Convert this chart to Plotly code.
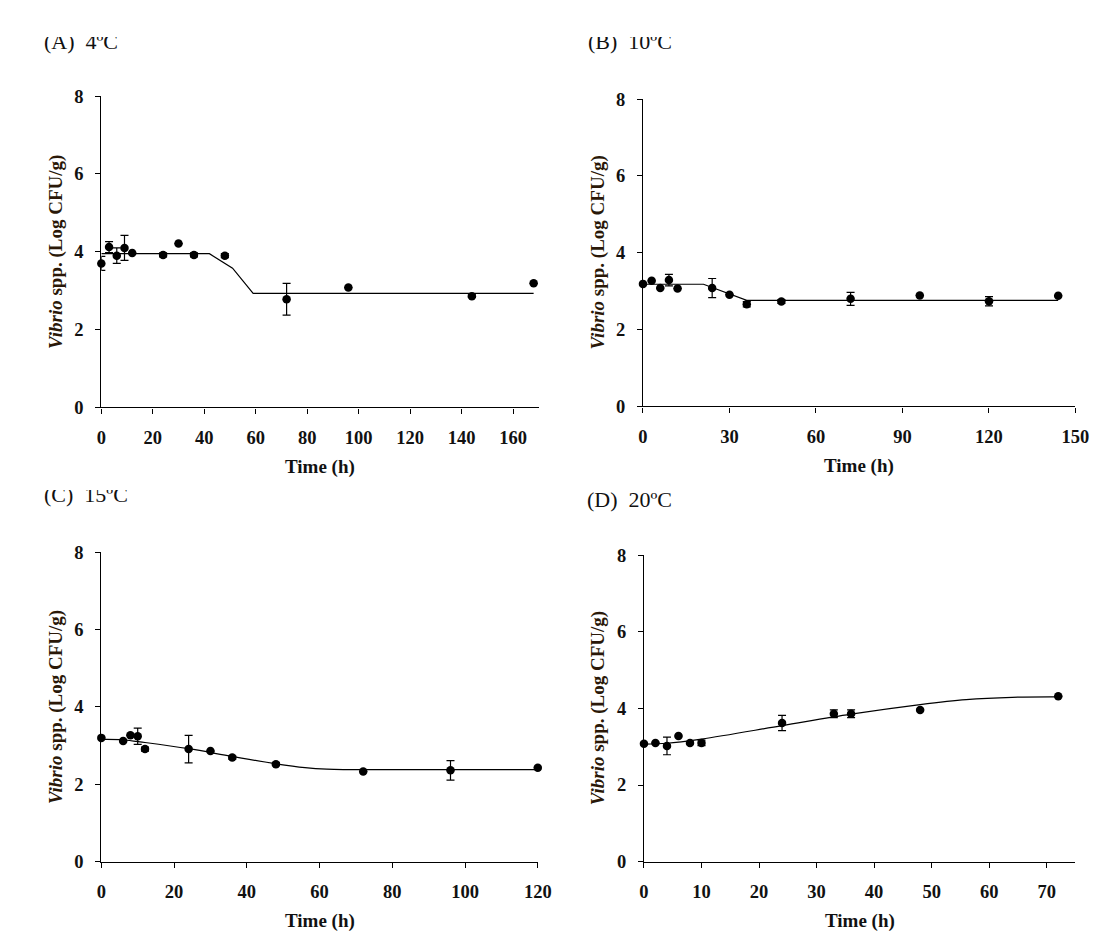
import plotly.graph_objects as go

W, H = 1118, 946

# ---------------- data ----------------
A_time = [0, 3, 6, 9, 12, 24, 30, 36, 48, 72, 96, 144, 168]
A_count = [3.70, 4.12, 3.90, 4.10, 3.97, 3.92, 4.21, 3.92, 3.90, 2.78, 3.08, 2.86, 3.19]
A_err = [0.18, 0.14, 0.20, 0.32, None, 0.05, None, 0.05, 0.05, 0.41, None, 0.03, None]
A_fit_time = [0, 42, 51, 59, 168]
A_fit = [3.95, 3.95, 3.58, 2.93, 2.93]

B_time = [0, 3, 6, 9, 12, 24, 30, 36, 48, 72, 96, 120, 144]
B_count = [3.19, 3.27, 3.08, 3.29, 3.07, 3.08, 2.91, 2.66, 2.73, 2.80, 2.89, 2.74, 2.88]
B_err = [None, None, None, 0.15, None, 0.25, None, 0.07, 0.05, 0.17, None, 0.12, None]
B_fit_time = [0, 21, 36, 144]
B_fit = [3.18, 3.18, 2.76, 2.76]

C_time = [0, 6, 8, 10, 12, 24, 30, 36, 48, 72, 96, 120]
C_count = [3.20, 3.12, 3.27, 3.24, 2.91, 2.91, 2.86, 2.69, 2.52, 2.33, 2.36, 2.43]
C_err = [None, None, None, 0.21, 0.05, 0.355, None, 0.04, 0.04, None, 0.25, None]
C_fit_time = [0, 6, 12, 24, 36, 48, 56, 62, 68, 120]
C_fit = [3.16, 3.15, 3.08, 2.92, 2.72, 2.53, 2.43, 2.39, 2.38, 2.38]

D_time = [0, 2, 4, 6, 8, 10, 24, 33, 36, 48, 72]
D_count = [3.08, 3.10, 3.02, 3.28, 3.10, 3.10, 3.62, 3.86, 3.86, 3.96, 4.32]
D_err = [None, None, 0.23, None, None, 0.07, 0.20, 0.10, 0.10, None, None]
D_fit_time = [0, 4, 10, 24, 36, 48, 56, 64, 72]
D_fit = [3.07, 3.09, 3.20, 3.55, 3.85, 4.10, 4.23, 4.29, 4.30]

panel_titles = ["(A)\u00a0\u00a04\u00baC", "(B)\u00a0\u00a010\u00baC",
                "(C)\u00a0\u00a015\u00baC", "(D)\u00a0\u00a020\u00baC"]
x_ranges = [[0, 170], [0, 150], [0, 120], [0, 75]]
x_dticks = [20, 30, 20, 10]
y_ticks = [0, 2, 4, 6, 8]

# ---------------- layout geometry (pixels) ----------------
# (left, right, top, bottom) of each plot area
boxes = [(98, 543, 88, 406), (649, 1089, 91, 405),
         (98, 542, 554, 870), (650, 1089, 557, 870)]
title_pos = [(38, 32), (591, 32), (38, 495), (590, 500)]
# the source figure crops the top of some panel titles: (x0, x1, y_clip) or None
title_clip = [(30, 140, 28), (583, 700, 28), (30, 150, 490), None]

series = [
    (A_time, A_count, A_err, A_fit_time, A_fit, "linear"),
    (B_time, B_count, B_err, B_fit_time, B_fit, "linear"),
    (C_time, C_count, C_err, C_fit_time, C_fit, "spline"),
    (D_time, D_count, D_err, D_fit_time, D_fit, "spline"),
]

SERIF = "Liberation Serif, Times New Roman, serif"
tick_font = dict(family=SERIF, size=18.5, color="#111", weight="bold")
title_font = dict(family=SERIF, size=19, color="#111")

fig = go.Figure()
layout = dict(
    width=W, height=H,
    margin=dict(l=0, r=0, t=0, b=0),
    paper_bgcolor="white", plot_bgcolor="white",
    showlegend=False,
)
annotations = []
covers = []

for i, (box, (t, c, e, ft, fv, shape)) in enumerate(zip(boxes, series)):
    l, r, tp, bt = box
    xa = "xaxis" if i == 0 else f"xaxis{i+1}"
    ya = "yaxis" if i == 0 else f"yaxis{i+1}"
    xr = "x" if i == 0 else f"x{i+1}"
    yr = "y" if i == 0 else f"y{i+1}"
    layout[xa] = dict(
        domain=[l / W, r / W], range=x_ranges[i], anchor=yr,
        dtick=x_dticks[i], tick0=0, showgrid=False, zeroline=False,
        showline=True, linecolor="black", linewidth=1.2,
        ticks="outside", ticklen=5, tickwidth=1.2, tickcolor="black",
        tickfont=tick_font, ticklabelstandoff=8,
    )
    layout[ya] = dict(
        domain=[1 - bt / H, 1 - tp / H], range=[0, 8], anchor=xr,
        tickvals=y_ticks, showgrid=False, zeroline=False,
        showline=True, linecolor="black", linewidth=1.2,
        ticks="outside", ticklen=5, tickwidth=1.2, tickcolor="black",
        tickfont=tick_font, ticklabelstandoff=8,
    )
    # fitted curve
    fig.add_trace(go.Scatter(
        x=ft, y=fv, mode="lines", xaxis=xr, yaxis=yr,
        line=dict(color="black", width=1.2, shape=shape),
        hoverinfo="skip", cliponaxis=False,
    ))
    # observed data
    fig.add_trace(go.Scatter(
        x=t, y=c, mode="markers", xaxis=xr, yaxis=yr,
        marker=dict(color="black", size=8.5),
        error_y=dict(type="data", array=e, symmetric=True,
                     color="black", thickness=1.2, width=4),
        cliponaxis=False,
    ))
    # panel title
    tx, ty = title_pos[i]
    annotations.append(dict(
        text=panel_titles[i], xref="paper", yref="paper",
        x=tx / W, y=1 - ty / H, xanchor="left", yanchor="middle",
        showarrow=False, font=dict(family=SERIF, size=22, color="#111"),
    ))
    if title_clip[i] is not None:
        x0, x1, yc = title_clip[i]
        covers.append(dict(
            text="\u00a0", xref="paper", yref="paper",
            x=x0 / W, y=1 - yc / H, xanchor="left", yanchor="bottom",
            width=x1 - x0, height=14, bgcolor="white", borderpad=0,
            borderwidth=0, showarrow=False, font=dict(size=4, color="white"),
        ))
    # x title
    annotations.append(dict(
        text="<b>Time (h)</b>", xref="paper", yref="paper",
        x=(l + r) / 2 / W, y=1 - (bt + 61) / H,
        xanchor="center", yanchor="middle", showarrow=False,
        font=title_font,
    ))
    # y title
    annotations.append(dict(
        text="<b><i>Vibrio</i> spp. (Log CFU/g)</b>", xref="paper", yref="paper",
        x=(l - 46) / W, y=1 - (tp + bt) / 2 / H, textangle=-90,
        xanchor="center", yanchor="middle", showarrow=False,
        font=dict(family=SERIF, size=19, color="#2a1808"),
    ))

layout["annotations"] = annotations + covers
fig.update_layout(**layout)
fig.write_html(
    "out.html",
    config={"displayModeBar": False},
    post_script="document.body.style.margin='0';document.body.style.overflow='hidden';",
)
